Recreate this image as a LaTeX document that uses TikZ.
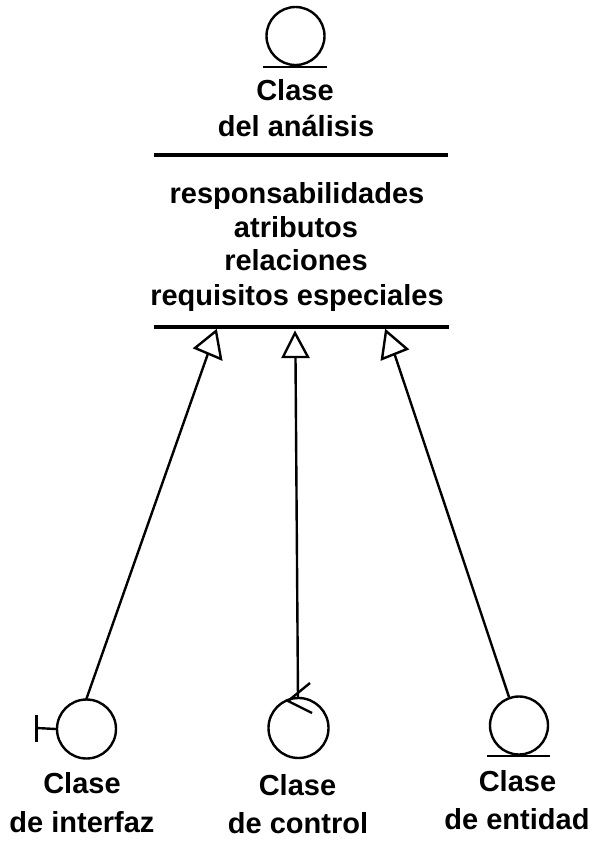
\documentclass[tikz,border=0pt]{standalone}
\usepackage{fontspec}
\setmainfont{Liberation Sans}
\tikzset{
  lab/.style={font=\fontsize{29}{34}\selectfont\bfseries,align=center,inner sep=0pt,text=black,anchor=base},
  sym/.style={draw=black,line width=2.4pt,fill=white,circle,inner sep=0pt},
  rule/.style={line width=3.4pt,black},
  thin/.style={line width=2.4pt,black},
  tri/.style={draw=black,line width=2.4pt,fill=white,line join=miter}
}
\begin{document}
\begin{tikzpicture}[x=1pt,y=-1pt]
\useasboundingbox (0,0) rectangle (601,844);
% top class symbol
\node[sym,minimum size=58pt] (top) at (295.5,36) {};
\coordinate (topL) at (263,67); \coordinate (topR) at (327,67);
\draw[thin] (topL) -- (topR);
\node[lab] (t1) at (295,100) {Clase};
\node[lab] (t2) at (296,136) {del análisis};
\coordinate (r1L) at (154,155); \coordinate (r1R) at (448,155);
\draw[rule] (r1L) -- (r1R);
\node[lab] (b1) at (297,203) {responsabilidades};
\node[lab] (b2) at (296,237) {atributos};
\node[lab] (b3) at (296,270) {relaciones};
\node[lab] (b4) at (297,305) {requisitos especiales};
\coordinate (r2L) at (154,327); \coordinate (r2R) at (449,327);
\draw[rule] (r2L) -- (r2R);
% bottom symbols
\node[sym,minimum size=59pt] (ci) at (86.5,729) {};
\coordinate (ciT1) at (36.5,715); \coordinate (ciT2) at (36.5,742); \coordinate (ciS) at (36.5,728);
\draw[thin] (ciT1) -- (ciT2);
\draw[thin] (ciS) -- (ci.west);
\node[sym,minimum size=60pt] (cc) at (298.5,728) {};
\coordinate (ccA1) at (310,683); \coordinate (ccA2) at (312,713); \coordinate (ccT) at (288,701);
\node[sym,minimum size=58pt] (ce) at (519,725.5) {};
\coordinate (ceL) at (487,756); \coordinate (ceR) at (550,756);
\draw[thin] (ceL) -- (ceR);
% arrow tips
\coordinate (a1) at (216,331); \coordinate (a1b) at (208,353.5);
\coordinate (a2) at (295,333); \coordinate (a2b) at (295.5,357);
\coordinate (a3) at (386,331); \coordinate (a3b) at (394.5,354);
\coordinate (ccE) at (298,698); \coordinate (ceE) at (509,697); \coordinate (ciE) at (86,700);
\draw[thin] (a1b) -- (ciE);
\draw[thin] (a2b) -- (ccE);
\draw[thin] (a3b) -- (ceE);
\draw[tri] (a1) -- (195,348) -- (221,359) -- cycle;
\draw[tri] (a2) -- (283,357) -- (308,357) -- cycle;
\draw[tri] (a3) -- (407,349) -- (382,359) -- cycle;
\draw[thin] (ccA1) -- (ccT) -- (ccA2);
% labels
\node[lab] (l1) at (82,793) {Clase};
\node[lab] (l2) at (82,832) {de interfaz};
\node[lab] (l3) at (297.5,795) {Clase};
\node[lab] (l4) at (298,833) {de control};
\node[lab] (l5) at (517.5,791) {Clase};
\node[lab] (l6) at (517,829) {de entidad};
\end{tikzpicture}
\end{document}
